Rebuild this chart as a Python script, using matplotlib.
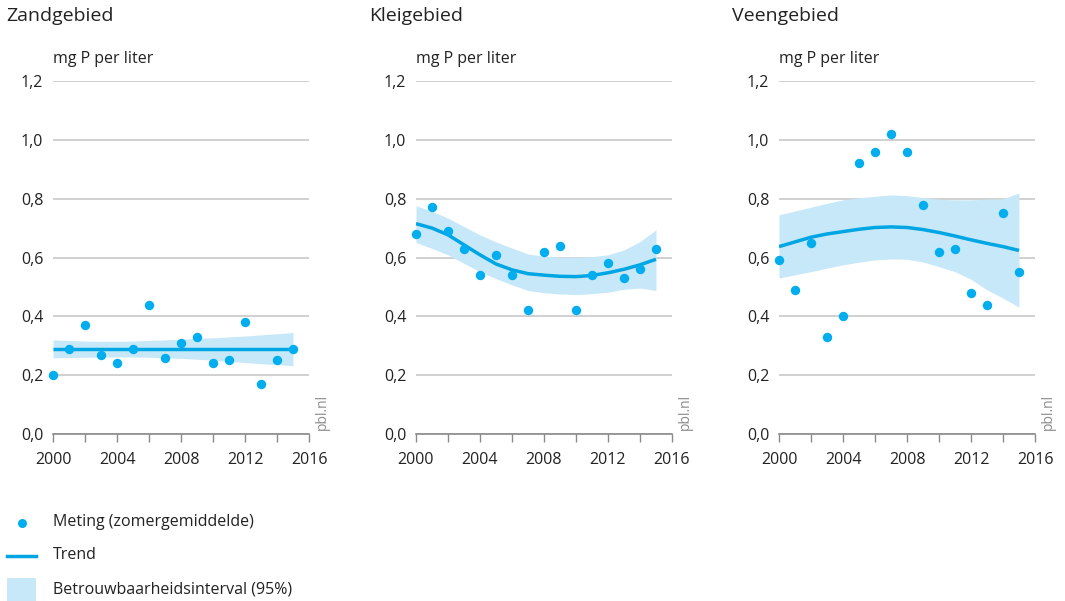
import numpy as np
import matplotlib
matplotlib.use("Agg")
import matplotlib.pyplot as plt
from matplotlib.patches import Rectangle
from matplotlib.lines import Line2D

plt.rcParams["font.family"] = ["Open Sans", "DejaVu Sans"]

years = np.arange(2000, 2016)

# Zandgebied
zand_meting = [0.20, 0.29, 0.37, 0.27, 0.24, 0.29, 0.44, 0.26, 0.31, 0.33, 0.24, 0.25, 0.38, 0.17, 0.25, 0.29]
zand_trend = [0.289] * 16
zand_hoog = [0.320, 0.318, 0.316, 0.315, 0.315, 0.316, 0.318, 0.320, 0.322, 0.325, 0.327, 0.330, 0.333, 0.337, 0.341, 0.345]
zand_laag = [0.259, 0.260, 0.261, 0.262, 0.262, 0.262, 0.261, 0.259, 0.257, 0.254, 0.251, 0.247, 0.243, 0.239, 0.236, 0.232]

# Kleigebied
klei_meting = [0.68, 0.77, 0.69, 0.63, 0.54, 0.61, 0.54, 0.42, 0.62, 0.64, 0.42, 0.54, 0.58, 0.53, 0.56, 0.63]
klei_trend = [0.715, 0.700, 0.677, 0.643, 0.609, 0.578, 0.558, 0.545, 0.540, 0.536, 0.535, 0.539, 0.548, 0.560, 0.575, 0.594]
klei_hoog = [0.776, 0.757, 0.734, 0.705, 0.677, 0.653, 0.632, 0.612, 0.604, 0.601, 0.601, 0.603, 0.609, 0.626, 0.654, 0.694]
klei_laag = [0.651, 0.631, 0.609, 0.580, 0.552, 0.528, 0.507, 0.488, 0.480, 0.476, 0.474, 0.477, 0.482, 0.492, 0.496, 0.488]

# Veengebied
veen_meting = [0.59, 0.49, 0.65, 0.33, 0.40, 0.92, 0.96, 1.02, 0.96, 0.78, 0.62, 0.63, 0.48, 0.44, 0.75, 0.55]
veen_trend = [0.637, 0.653, 0.669, 0.680, 0.688, 0.696, 0.702, 0.704, 0.702, 0.695, 0.685, 0.673, 0.660, 0.648, 0.637, 0.624]
veen_hoog = [0.745, 0.758, 0.771, 0.784, 0.796, 0.803, 0.808, 0.813, 0.810, 0.804, 0.798, 0.796, 0.796, 0.798, 0.800, 0.819]
veen_laag = [0.530, 0.541, 0.552, 0.564, 0.575, 0.584, 0.592, 0.595, 0.594, 0.585, 0.569, 0.552, 0.526, 0.490, 0.462, 0.431]

panels = [
    ("Zandgebied", zand_meting, zand_trend, zand_hoog, zand_laag),
    ("Kleigebied", klei_meting, klei_trend, klei_hoog, klei_laag),
    ("Veengebied", veen_meting, veen_trend, veen_hoog, veen_laag),
]

y_ticks = [0.0, 0.2, 0.4, 0.6, 0.8, 1.0, 1.2]
x_ticks = [2000, 2004, 2008, 2012, 2016]

DOT = "#00aeef"
LINE = "#00a5e3"
BAND = "#c6e8f8"
TEXT = "#222222"
GRID = "#c8c8c8"

W, H = 1065, 601
fig = plt.figure(figsize=(W / 100, H / 100), dpi=100)

lefts = [53, 416, 779]
for left, (naam, meting, trend, hoog, laag) in zip(lefts, panels):
    ax = fig.add_axes([left / W, (H - 434) / H, 256 / W, (434 - 81) / H])
    ax.fill_between(years, laag, hoog, color=BAND, lw=0, zorder=2)
    ax.plot(years, trend, color=LINE, lw=2.5, zorder=3, solid_capstyle="butt")
    ax.scatter(years, meting, s=46, color=DOT, lw=0, zorder=4, clip_on=False)

    ax.set_xlim(2000, 2016)
    ax.set_ylim(0, 1.2)
    ax.set_yticks(y_ticks)
    ax.set_yticklabels([f"{v:.1f}".replace(".", ",") for v in y_ticks])
    ax.set_xticks(x_ticks)
    ax.set_xticks(np.arange(2000, 2017, 2), minor=True)
    ax.grid(axis="y", color=GRID, lw=1.2, zorder=0)
    for s in ["top", "right", "left"]:
        ax.spines[s].set_visible(False)
    ax.spines["bottom"].set_color("#8a8a8a")
    ax.spines["bottom"].set_linewidth(1.2)
    ax.tick_params(axis="y", length=0, pad=7, labelsize=11.5, labelcolor=TEXT)
    ax.tick_params(axis="x", which="both", direction="out", length=6, width=1.0,
                   color="#8a8a8a", labelsize=11.5, labelcolor=TEXT, pad=7)

    fig.text((left - 47) / W, 1 - 16 / H, naam, fontsize=14, color=TEXT, va="center")
    fig.text(left / W, 1 - 59 / H, "mg P per liter", fontsize=11.5, color=TEXT, va="center")
    fig.text((left + 269) / W, 1 - 430 / H, "pbl.nl", fontsize=10, color="#8c8c8c",
             rotation=90, ha="center", va="bottom")

# legenda
fig.text(53 / W, 1 - 522 / H, "Meting (zomergemiddelde)", fontsize=11.5, color=TEXT, va="center")
fig.text(53 / W, 1 - 555 / H, "Trend", fontsize=11.5, color=TEXT, va="center")
fig.text(53 / W, 1 - 589 / H, "Betrouwbaarheidsinterval (95%)", fontsize=11.5, color=TEXT, va="center")
fig.add_artist(Line2D([22 / W], [1 - 523 / H], marker="o", markersize=6.5, color=DOT, mec="none", lw=0))
fig.add_artist(Line2D([7 / W, 36 / W], [1 - 556 / H, 1 - 556 / H], color=LINE, lw=2.5))
fig.add_artist(Rectangle((7 / W, 1 - 601 / H), 29 / W, 23 / H, color=BAND, lw=0))

fig.savefig("out.png", dpi=100)
